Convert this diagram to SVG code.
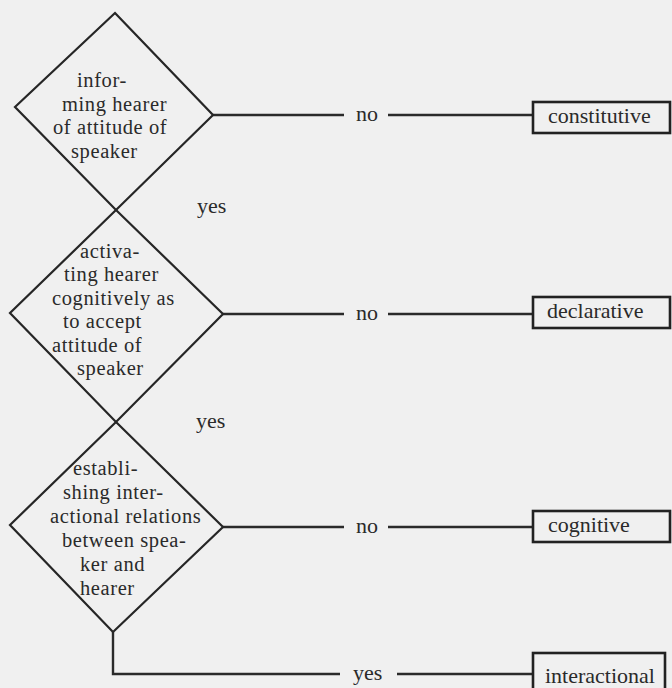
<svg xmlns="http://www.w3.org/2000/svg" width="672" height="688" viewBox="0 0 672 688">
<style>
  .bg { fill: #f0f0f0; }
  .shape { fill: none; stroke: #262626; stroke-width: 2.2; stroke-linejoin: miter; }
  .box { fill: none; stroke: #222; stroke-width: 2.6; }
  .line { fill: none; stroke: #2a2a2a; stroke-width: 2.4; }
  text { font-family: "Liberation Serif", "Times New Roman", serif; font-size: 22px; fill: #2a2a2a; }
  .in { font-size: 20.5px; letter-spacing: 0.6px; }
</style>
<rect class="bg" x="0" y="0" width="672" height="688"/>

<g id="connectors">
  <line class="line" x1="213" y1="115" x2="344" y2="115"/>
  <line class="line" x1="388" y1="115" x2="533" y2="115"/>
  <text x="356" y="121">no</text>
  <text x="197" y="213">yes</text>

  <line class="line" x1="223" y1="314" x2="344" y2="314"/>
  <line class="line" x1="388" y1="314" x2="533" y2="314"/>
  <text x="356" y="320">no</text>
  <text x="196" y="428">yes</text>

  <line class="line" x1="223" y1="527" x2="344" y2="527"/>
  <line class="line" x1="388" y1="527" x2="533" y2="527"/>
  <text x="356" y="533">no</text>

  <polyline class="line" points="113,632 113,674 340,674"/>
  <line class="line" x1="397" y1="674" x2="533" y2="674"/>
  <text x="353" y="680">yes</text>
</g>

<g id="decision-informing">
  <polygon class="shape" points="115,13 213,115 116,210 15,107"/>
  <text class="in" x="77" y="87">infor-</text>
  <text class="in" x="62" y="111">ming hearer</text>
  <text class="in" x="53" y="134">of attitude of</text>
  <text class="in" x="71" y="158">speaker</text>
</g>

<g id="decision-activating">
  <polygon class="shape" points="116,210 223,314 116,422 10,313"/>
  <text class="in" x="80" y="258">activa-</text>
  <text class="in" x="64" y="281">ting hearer</text>
  <text class="in" x="52" y="305">cognitively as</text>
  <text class="in" x="63" y="328">to accept</text>
  <text class="in" x="52" y="352">attitude of</text>
  <text class="in" x="77" y="375">speaker</text>
</g>

<g id="decision-establishing">
  <polygon class="shape" points="116,422 223,527 113,632 10,525"/>
  <text class="in" x="73" y="475">establi-</text>
  <text class="in" x="63" y="499">shing inter-</text>
  <text class="in" x="50" y="523">actional relations</text>
  <text class="in" x="62" y="547">between spea-</text>
  <text class="in" x="80" y="571">ker and</text>
  <text class="in" x="80" y="595">hearer</text>
</g>

<g id="result-constitutive">
  <rect class="box" x="533" y="102" width="137" height="31"/>
  <text x="548" y="123">constitutive</text>
</g>

<g id="result-declarative">
  <rect class="box" x="533" y="297" width="137" height="31"/>
  <text x="547" y="318">declarative</text>
</g>

<g id="result-cognitive">
  <rect class="box" x="533" y="511" width="137" height="31"/>
  <text x="548" y="532">cognitive</text>
</g>

<g id="result-interactional">
  <rect class="box" x="533" y="653" width="132" height="40"/>
  <text x="545" y="683">interactional</text>
</g>
</svg>
